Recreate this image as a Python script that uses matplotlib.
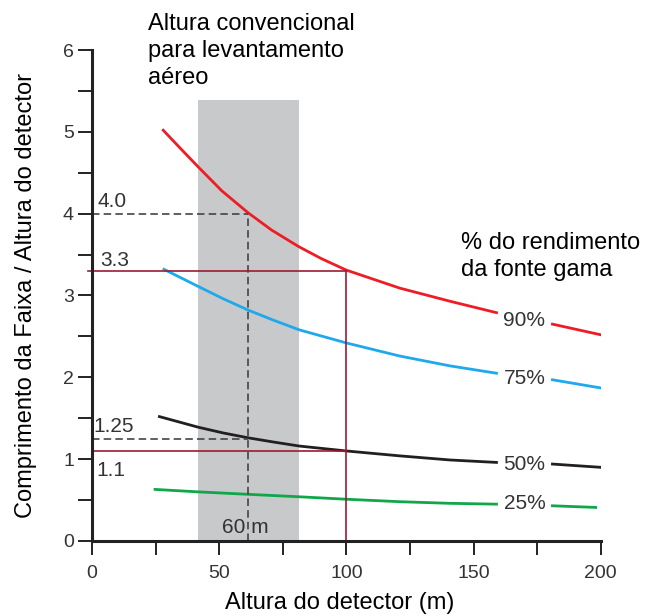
import numpy as np
import matplotlib
matplotlib.use('Agg')
import matplotlib.pyplot as plt

plt.rcParams['font.family'] = ['Liberation Sans', 'DejaVu Sans']

# curves; each is split where its label sits
x90a = [28, 35, 41.8, 51, 61.4, 70.6, 81.1, 90.2, 100, 121, 140.7, 159]
y90a = [5.02, 4.79, 4.57, 4.28, 4.01, 3.80, 3.60, 3.45, 3.31, 3.09, 2.93, 2.79]
x90b = [181, 200]
y90b = [2.65, 2.52]

x75a = [28.3, 41.8, 51.6, 61.5, 71.2, 81.5, 100, 121, 140.7, 159]
y75a = [3.32, 3.11, 2.96, 2.82, 2.70, 2.58, 2.42, 2.26, 2.14, 2.05]
x75b = [181, 200]
y75b = [1.97, 1.87]

x50a = [26.5, 41.8, 51.6, 61.5, 71.2, 81.5, 100, 121, 140.7, 159]
y50a = [1.52, 1.39, 1.32, 1.26, 1.21, 1.16, 1.10, 1.04, 0.99, 0.96]
x50b = [181, 200]
y50b = [0.94, 0.90]

x25a = [24.8, 41.8, 61.5, 81.5, 100, 121, 140.7, 159]
y25a = [0.63, 0.60, 0.57, 0.54, 0.51, 0.48, 0.46, 0.45]
x25b = [181, 198]
y25b = [0.43, 0.41]

curve_labels = ['90%', '75%', '50%', '25%']
label_y = [2.70, 1.98, 0.93, 0.46]

band = (41.6, 81.3, 5.39)
h60 = 61.5
v60 = [4.0, 1.25]
h100 = 100
v100 = [3.3, 1.1]

fig = plt.figure(figsize=(6.46, 6.16), dpi=100)
ax = fig.add_axes([0.1424, 0.1218, 0.7876, 0.797])

ax.fill_between([band[0], band[1]], 0, band[2], color='#c8c9cb', lw=0, zorder=0)

ax.plot(x90a, y90a, color='#ee1c25', lw=2)
ax.plot(x90b, y90b, color='#ee1c25', lw=2)
ax.plot(x75a, y75a, color='#1ea9ec', lw=2)
ax.plot(x75b, y75b, color='#1ea9ec', lw=2)
ax.plot(x50a, y50a, color='#231f20', lw=2)
ax.plot(x50b, y50b, color='#231f20', lw=2)
ax.plot(x25a, y25a, color='#10a64a', lw=2)
ax.plot(x25b, y25b, color='#10a64a', lw=2)

# dashed guides for 60 m
dash = dict(color='#444444', lw=1.2, ls=(0, (4.5, 2.5)))
ax.plot([0, h60], [v60[0], v60[0]], **dash)
ax.plot([h60, h60], [0, v60[0]], **dash)
ax.plot([0, h60], [v60[1], v60[1]], **dash)

# solid guides for 100 m
dr = '#9b1b30'
ax.plot([-1.5, h100], [v100[0], v100[0]], color=dr, lw=1.2, clip_on=False)
ax.plot([h100, h100], [0, v100[0]], color=dr, lw=1.2)
ax.plot([0, h100], [v100[1], v100[1]], color=dr, lw=1.2)

tc = '#333333'
afs = 15
ax.text(2, 4.08, '4.0', fontsize=afs, color=tc, ha='left', va='baseline')
ax.text(3.1, 3.36, '3.3', fontsize=afs, color=tc, ha='left', va='baseline')
ax.text(0.4, 1.33, '1.25', fontsize=afs, color=tc, ha='left', va='baseline')
ax.text(1.8, 0.79, '1.1', fontsize=afs, color=tc, ha='left', va='baseline')
ax.text(51, 0.094, '60 m', fontsize=afs, color=tc, ha='left', va='baseline')

for lab, ly in zip(curve_labels, label_y):
    ax.text(170, ly, lab, fontsize=afs, color=tc, ha='center', va='center')

fs = 17
ax.text(22, 6.45, 'Altura convencional\npara levantamento\naéreo', fontsize=fs,
        ha='left', va='top', linespacing=1.3, clip_on=False)
ax.text(145, 3.78, '% do rendimento\nda fonte gama', fontsize=fs,
        ha='left', va='top', linespacing=1.3)

ax.set_xlim(0, 200)
ax.set_ylim(0, 6)
ax.set_xticks(np.arange(0, 201, 25))
ax.set_xticklabels(['0', '', '50', '', '100', '', '150', '', '200'])
ax.set_yticks(np.arange(0, 6.01, 0.5))
ax.set_yticklabels(['0', '', '1', '', '2', '', '3', '', '4', '', '5', '', '6'])
ax.tick_params(axis='both', direction='out', length=10, width=1.4, labelsize=14,
               labelcolor=tc, color='#222222')
ax.tick_params(axis='x', pad=7.5)
ax.tick_params(axis='y', pad=3)
for s in ['top', 'right']:
    ax.spines[s].set_visible(False)
for s in ['left', 'bottom']:
    ax.spines[s].set_linewidth(2.2)
    ax.spines[s].set_color('#222222')
ax.set_xlabel('Altura do detector (m)', fontsize=fs, labelpad=7)
ax.xaxis.label.set_x(0.486)
ax.set_ylabel('Comprimento da Faixa / Altura do detector', fontsize=fs, labelpad=19)

fig.savefig('out.png', dpi=100)
